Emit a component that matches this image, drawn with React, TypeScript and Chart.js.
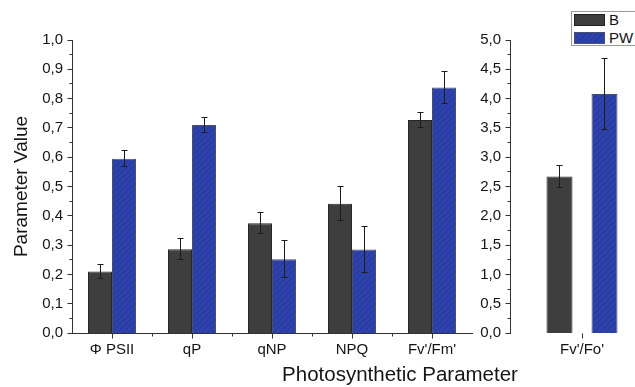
import React, { useEffect, useRef } from 'react';
import { Chart, registerables } from 'chart.js';

Chart.register(...registerables);

// ---- data ----
const leftCategories = ['Φ PSII', 'qP', 'qNP', 'NPQ', "Fv'/Fm'"];
const leftB = [0.21, 0.286, 0.375, 0.441, 0.727];
const leftBErr = [0.024, 0.036, 0.035, 0.058, 0.025];
const leftPW = [0.595, 0.71, 0.252, 0.285, 0.838];
const leftPWErr = [0.027, 0.025, 0.062, 0.08, 0.054];

const rightCategories = ["Fv'/Fo'"];
const rightB = [2.67];
const rightBErr = [0.18];
const rightPW = [4.08];
const rightPWErr = [0.61];

const seriesNames = ['B', 'PW'];
const yTitle = 'Parameter Value';
const xTitle = 'Photosynthetic Parameter';

// ---- styles ----
const FONT = "'Liberation Sans', Arial, sans-serif";
const B_COLOR = '#3e3e3e';
const PW_COLOR = '#2d42aa';
const AXIS_COLOR = '#333333';
const TEXT_COLOR = '#141414';

function makeHatch(): any {
  const c = document.createElement('canvas');
  c.width = 6;
  c.height = 6;
  const g = c.getContext('2d');
  if (!g) return PW_COLOR;
  g.fillStyle = PW_COLOR;
  g.fillRect(0, 0, 6, 6);
  g.strokeStyle = 'rgba(22,32,115,0.35)';
  g.lineWidth = 1;
  g.beginPath();
  g.moveTo(0, 6);
  g.lineTo(6, 0);
  g.moveTo(-1, 1);
  g.lineTo(1, -1);
  g.moveTo(5, 7);
  g.lineTo(7, 5);
  g.stroke();
  return g.createPattern(c, 'repeat') || PW_COLOR;
}

const align = (p: number) => Math.round(p - 0.5) + 0.5;

const errorBarPlugin = {
  id: 'errorBars',
  afterDatasetsDraw(chart: any) {
    const ctx = chart.ctx;
    const yScale = chart.scales.y;
    chart.data.datasets.forEach((ds: any, di: number) => {
      const meta = chart.getDatasetMeta(di);
      const errs: number[] = ds.errors || [];
      meta.data.forEach((bar: any, i: number) => {
        const v = ds.data[i];
        const e = errs[i];
        if (e == null) return;
        const x = align(bar.x);
        const yTop = align(yScale.getPixelForValue(v + e));
        const yBot = align(yScale.getPixelForValue(v - e));
        ctx.save();
        ctx.strokeStyle = '#1c1c1c';
        ctx.lineWidth = 1;
        ctx.beginPath();
        ctx.moveTo(x, yTop);
        ctx.lineTo(x, yBot);
        ctx.moveTo(x - 3, yTop);
        ctx.lineTo(x + 3, yTop);
        ctx.moveTo(x - 3, yBot);
        ctx.lineTo(x + 3, yBot);
        ctx.stroke();
        ctx.restore();
      });
    });
  },
};

const axisTicksPlugin = {
  id: 'axisTicks',
  afterDraw(chart: any, _args: any, opts: any) {
    const ctx = chart.ctx;
    const y = chart.scales.y;
    const x = chart.scales.x;
    const area = chart.chartArea;
    const ax = align(area.left);
    const ay = align(area.bottom);
    ctx.save();
    ctx.strokeStyle = AXIS_COLOR;
    ctx.lineWidth = 1;
    ctx.beginPath();
    const yt = y.ticks;
    for (let i = 0; i < yt.length; i++) {
      const py = align(y.getPixelForValue(yt[i].value));
      ctx.moveTo(ax - 5, py);
      ctx.lineTo(ax, py);
      if (i < yt.length - 1) {
        const pm = align(y.getPixelForValue((yt[i].value + yt[i + 1].value) / 2));
        ctx.moveTo(ax - 3, pm);
        ctx.lineTo(ax, pm);
      }
    }
    const n = x.ticks.length;
    for (let i = 0; i < n; i++) {
      const px = align(x.getPixelForTick(i));
      ctx.moveTo(px, ay);
      ctx.lineTo(px, ay + 5);
      if (opts && opts.minorX && i < n - 1) {
        const pm = align((x.getPixelForTick(i) + x.getPixelForTick(i + 1)) / 2);
        ctx.moveTo(pm, ay);
        ctx.lineTo(pm, ay + 3);
      }
    }
    ctx.stroke();
    ctx.restore();
  },
};

const fmt = (v: any) => Number(v).toFixed(1).replace('.', ',');

function buildConfig(
  labels: string[],
  b: number[],
  bErr: number[],
  pw: number[],
  pwErr: number[],
  opts: {
    yMax: number;
    yStep: number;
    yWidth: number;
    padRight: number;
    showYTitle: boolean;
    xBorder: boolean;
    minorX: boolean;
    catPct: number;
    barPct: number;
  }
): any {
  const hatch = makeHatch();
  return {
    type: 'bar',
    data: {
      labels,
      datasets: [
        {
          label: seriesNames[0],
          data: b,
          errors: bErr,
          backgroundColor: B_COLOR,
          borderColor: '#262626',
          borderWidth: 1,
          categoryPercentage: opts.catPct,
          barPercentage: opts.barPct,
        },
        {
          label: seriesNames[1],
          data: pw,
          errors: pwErr,
          backgroundColor: hatch,
          borderColor: '#4a4f72',
          borderWidth: 1,
          categoryPercentage: opts.catPct,
          barPercentage: opts.barPct,
        },
      ],
    },
    options: {
      responsive: false,
      animation: false,
      devicePixelRatio: 1,
      layout: { padding: { top: 40, right: opts.padRight, left: 0, bottom: 0 } },
      plugins: {
        legend: { display: false },
        tooltip: { enabled: false },
        axisTicks: { minorX: opts.minorX },
      },
      scales: {
        x: {
          type: 'category',
          offset: true,
          grid: { display: false, drawTicks: false },
          border: { display: opts.xBorder, color: AXIS_COLOR, width: 1 },
          ticks: {
            color: TEXT_COLOR,
            font: { family: FONT, size: 15 },
            padding: 8,
            maxRotation: 0,
            autoSkip: false,
          },
          afterFit: (s: any) => {
            s.height = 54;
          },
        },
        y: {
          min: 0,
          max: opts.yMax,
          grid: { display: false, drawTicks: false },
          border: { display: true, color: AXIS_COLOR, width: 1 },
          ticks: {
            stepSize: opts.yStep,
            color: TEXT_COLOR,
            font: { family: FONT, size: 15 },
            padding: 9,
            callback: (v: any) => fmt(v),
          },
          title: {
            display: opts.showYTitle,
            text: yTitle,
            color: TEXT_COLOR,
            font: { family: FONT, size: 19 },
            padding: { top: 10, bottom: 0 },
          },
          afterFit: (s: any) => {
            s.width = opts.yWidth;
          },
        },
      },
    },
    plugins: [errorBarPlugin, axisTicksPlugin],
  };
}

export default function App() {
  const leftRef = useRef<HTMLCanvasElement | null>(null);
  const rightRef = useRef<HTMLCanvasElement | null>(null);

  useEffect(() => {
    if (!leftRef.current || !rightRef.current) return;
    const left = new Chart(
      leftRef.current,
      buildConfig(leftCategories, leftB, leftBErr, leftPW, leftPWErr, {
        yMax: 1,
        yStep: 0.1,
        yWidth: 72,
        padRight: 18,
        showYTitle: true,
        xBorder: true,
        minorX: true,
        catPct: 0.6,
        barPct: 1.0,
      })
    );
    const right = new Chart(
      rightRef.current,
      buildConfig(rightCategories, rightB, rightBErr, rightPW, rightPWErr, {
        yMax: 5,
        yStep: 0.5,
        yWidth: 70,
        padRight: 26,
        showYTitle: false,
        xBorder: false,
        minorX: false,
        catPct: 0.625,
        barPct: 0.578,
      })
    );
    return () => {
      left.destroy();
      right.destroy();
    };
  }, []);

  const swatch = (bg: string, border: string): React.CSSProperties => ({
    position: 'absolute',
    left: 2,
    width: 31,
    height: 12,
    background: bg,
    border: `1px solid ${border}`,
    boxSizing: 'border-box',
  });

  return (
    <div
      style={{
        position: 'fixed',
        left: 0,
        top: 0,
        width: 635,
        height: 387,
        overflow: 'hidden',
        background: '#ffffff',
        fontFamily: FONT,
      }}
    >
      <canvas
        ref={leftRef}
        width={490}
        height={387}
        style={{ position: 'absolute', left: 0, top: 0, width: 490, height: 387 }}
      />
      <canvas
        ref={rightRef}
        width={240}
        height={387}
        style={{ position: 'absolute', left: 440, top: 0, width: 240, height: 387 }}
      />
      <div
        style={{
          position: 'absolute',
          left: 571,
          top: 11,
          width: 80,
          height: 35,
          border: '1px solid #9a9a9a',
          background: '#fff',
          boxSizing: 'border-box',
          color: TEXT_COLOR,
          fontSize: 15,
        }}
      >
        <div style={{ ...swatch(B_COLOR, '#222'), top: 2 }} />
        <div style={{ position: 'absolute', left: 37, top: 0, lineHeight: '16px' }}>{seriesNames[0]}</div>
        <div
          style={{
            ...swatch(PW_COLOR, '#4a4f72'),
            top: 20,
            background: `repeating-linear-gradient(-45deg, ${PW_COLOR} 0px, ${PW_COLOR} 3px, #26389a 3px, #26389a 4px)`,
          }}
        />
        <div style={{ position: 'absolute', left: 37, top: 18, lineHeight: '16px' }}>{seriesNames[1]}</div>
      </div>
      <div
        style={{
          position: 'absolute',
          left: 200,
          width: 400,
          top: 364,
          textAlign: 'center',
          fontSize: 20.5,
          lineHeight: '20px',
          color: TEXT_COLOR,
          whiteSpace: 'nowrap',
        }}
      >
        {xTitle}
      </div>
    </div>
  );
}
